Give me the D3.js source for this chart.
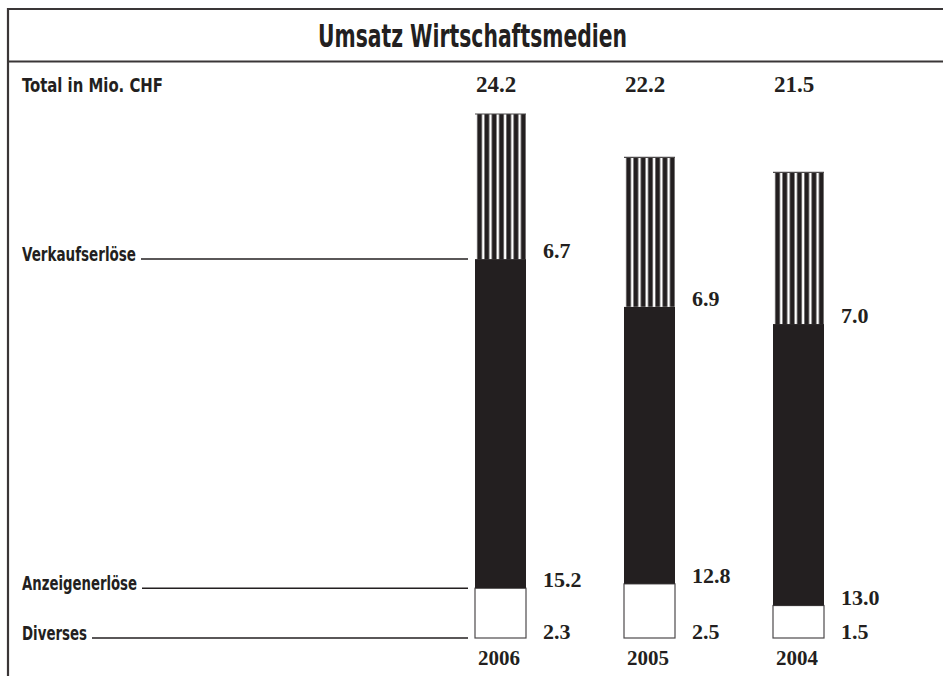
<!DOCTYPE html>
<html>
<head>
<meta charset="utf-8">
<script src="https://cdn.jsdelivr.net/npm/d3@7"></script>
<style>
  html, body { margin: 0; padding: 0; background: #fff; }
  svg { display: block; }
  .lbl { font-family: "DejaVu Sans", sans-serif; font-stretch: condensed; font-weight: bold; fill: #231f20; }
  .num { font-family: "Liberation Serif", "DejaVu Serif", serif; font-weight: bold; fill: #231f20; }
</style>
</head>
<body>
<svg id="chart" width="943" height="676"></svg>
<script>
// ---- data ----
const title = "Umsatz Wirtschaftsmedien";
const unitLabel = "Total in Mio. CHF";
const years = ["2006", "2005", "2004"];
const seriesNames = ["Diverses", "Anzeigenerlöse", "Verkaufserlöse"];
const diverses = [2.3, 2.5, 1.5];
const anzeigen = [15.2, 12.8, 13.0];
const verkauf = [6.7, 6.9, 7.0];
const totals = ["24.2", "22.2", "21.5"];
const valueLabels = [["2.3", "2.5", "1.5"], ["15.2", "12.8", "13.0"], ["6.7", "6.9", "7.0"]];

// ---- build table ----
const table = years.map((yr, i) => ({
  year: yr,
  "Diverses": diverses[i],
  "Anzeigenerlöse": anzeigen[i],
  "Verkaufserlöse": verkauf[i]
}));
const stacked = d3.stack().keys(seriesNames)(table);

const svg = d3.select("#chart");
const ink = "#231f20";

// condense a text to a target width (only shrinks)
function fitWidth(sel, w) {
  const n = sel.node();
  if (n.getComputedTextLength() > w) {
    sel.attr("textLength", w).attr("lengthAdjust", "spacingAndGlyphs");
  }
  return sel;
}

// frame
svg.append("line").attr("x1", 7).attr("x2", 943).attr("y1", 9).attr("y2", 9)
  .attr("stroke", "#3a3637").attr("stroke-width", 2.2);
svg.append("line").attr("x1", 8).attr("x2", 8).attr("y1", 8).attr("y2", 676)
  .attr("stroke", "#3a3637").attr("stroke-width", 2.2);
svg.append("line").attr("x1", 7).attr("x2", 943).attr("y1", 61.5).attr("y2", 61.5)
  .attr("stroke", "#3a3637").attr("stroke-width", 2.2);

// title
fitWidth(svg.append("text").attr("class", "lbl")
  .attr("x", 318).attr("y", 47)
  .attr("font-size", 32).text(title), 309);

fitWidth(svg.append("text").attr("class", "lbl")
  .attr("x", 22).attr("y", 92).attr("font-size", 19).text(unitLabel), 141);

// scales
const x = d3.scaleBand().domain(years).range([475, 824]).paddingInner(98 / 149).paddingOuter(0);
const y = d3.scaleLinear().domain([0, 24.2]).range([638, 114]);

// stripe pattern (one per bar, aligned to bar's left edge)
const defs = svg.append("defs");
const stripeW = x.bandwidth() / 7;
years.forEach((yr, i) => {
  const p = defs.append("pattern").attr("id", "stripes" + i)
    .attr("patternUnits", "userSpaceOnUse")
    .attr("x", x(yr)).attr("y", 0).attr("width", stripeW).attr("height", 676);
  p.append("rect").attr("x", 0).attr("y", 0).attr("width", stripeW).attr("height", 676).attr("fill", "#fff");
  p.append("rect").attr("x", stripeW * 0.3).attr("y", 0).attr("width", stripeW * 0.65).attr("height", 676).attr("fill", ink);
});

const fillFor = (si, i) => si === 0 ? "#fff" : si === 1 ? ink : "url(#stripes" + i + ")";

const groups = svg.append("g").selectAll("g").data(stacked).join("g");
groups.selectAll("rect").data((s, si) => s.map((d, i) => ({ d, si, i })))
  .join("rect")
  .attr("x", o => x(o.d.data.year))
  .attr("width", x.bandwidth())
  .attr("y", o => y(o.d[1]))
  .attr("height", o => y(o.d[0]) - y(o.d[1]))
  .attr("fill", o => fillFor(o.si, o.i))
  .attr("stroke", o => o.si === 0 ? "#4d4a4b" : "none")
  .attr("stroke-width", 1.2);

// outline of striped segment top
groups.filter((s, si) => si === 2).selectAll("line.top").data(s => s)
  .join("line")
  .attr("x1", d => x(d.data.year)).attr("x2", d => x(d.data.year) + x.bandwidth())
  .attr("y1", d => y(d[1])).attr("y2", d => y(d[1]))
  .attr("stroke", "#4d4a4b").attr("stroke-width", 1.2);

// value labels (baseline at bottom of each segment)
groups.selectAll("text").data((s, si) => s.map((d, i) => ({ d, si, i })))
  .join("text").attr("class", "num")
  .attr("x", o => x(o.d.data.year) + x.bandwidth() + 17)
  .attr("y", o => y(o.d[0]) + (o.si === 0 ? 1 : -1))
  .attr("font-size", 22)
  .text(o => valueLabels[o.si][o.i]);

// totals on top
svg.append("g").selectAll("text").data(years).join("text").attr("class", "num")
  .attr("x", d => x(d) + 1).attr("y", 92).attr("font-size", 23)
  .text((d, i) => totals[i]);

// year labels
svg.append("g").selectAll("text").data(years).join("text").attr("class", "num")
  .attr("x", d => x(d) + 3).attr("y", 665).attr("font-size", 21)
  .text(d => d);

// category labels with leader lines (aligned to first bar)
const first = years[0];
const labelWidths = { "Verkaufserlöse": 114, "Anzeigenerlöse": 115, "Diverses": 65 };
const legend = svg.append("g").selectAll("g").data(stacked).join("g");
legend.each(function (s) {
  const g = d3.select(this);
  const yy = y(s.find(d => d.data.year === first)[0]);
  const t = fitWidth(g.append("text").attr("class", "lbl")
    .attr("x", 22).attr("y", yy + 2).attr("font-size", 19).text(s.key), labelWidths[s.key]);
  const w = t.attr("textLength") ? +t.attr("textLength") : t.node().getComputedTextLength();
  g.append("line").attr("x1", 22 + w + 5).attr("x2", 468)
    .attr("y1", yy).attr("y2", yy)
    .attr("stroke", ink).attr("stroke-width", 1.4);
});
</script>
</body>
</html>
